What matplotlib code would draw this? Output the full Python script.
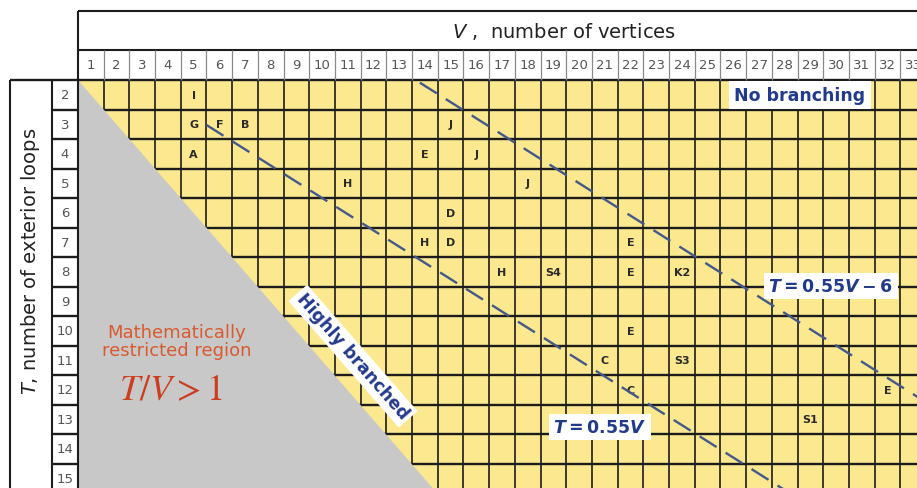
import matplotlib.pyplot as plt
from matplotlib.patches import Polygon, Rectangle

# grid axes: V across, T down
vertices = list(range(1, 34))
loops = list(range(2, 16))

# structures placed in the grid
labels = ["I", "G", "F", "B", "J", "A", "E", "J", "H", "J", "D", "H", "D", "E",
          "H", "S4", "E", "K2", "E", "C", "S3", "C", "E", "S1"]
label_v = [5, 5, 6, 7, 15, 5, 14, 16, 11, 18, 15, 14, 15, 22,
           17, 19, 22, 24, 22, 21, 24, 22, 32, 29]
label_t = [2, 3, 3, 3, 3, 4, 4, 4, 5, 5, 6, 7, 7, 7,
           8, 8, 8, 8, 10, 11, 11, 12, 12, 13]

# dashed boundaries T = slope*V + b
slope = 0.55
intercepts = [0, -6]
line_start_v = [5.5, 13.8]
line_texts = [r"$T = 0.55V$", r"$T = 0.55V - 6$"]

YELLOW = "#fbe88f"
GRAY = "#c8c8c8"
GRID = "#1c1c1c"
NAVY = "#223a8a"
DASH = "#44598a"
ORANGE = "#d85a30"

plt.rcParams["mathtext.fontset"] = "custom"
plt.rcParams["mathtext.rm"] = "DejaVu Sans:bold"
plt.rcParams["mathtext.it"] = "DejaVu Sans:italic:bold"

fig = plt.figure(figsize=(9.17, 4.89), dpi=100)
ax = fig.add_axes([0, 0, 1, 1])
ax.set_xlim(-2.535, 33.146)
ax.set_ylim(15.33, -1.246)
ax.axis("off")

v_lo, v_hi = vertices[0] - 0.5, vertices[-1] + 2
t_lo, t_hi = loops[0] - 0.5, loops[-1] + 1.5
lab_x = -0.512      # left edge of the row-number column
box_x = -2.146      # left edge of the axis title box
head_top = -0.839
head_mid = 0.473

# cells
ax.add_patch(Rectangle((v_lo, t_lo), v_hi - v_lo, t_hi - t_lo, fc=YELLOW, ec="none", zorder=0))
ax.hlines([t + 0.5 for t in loops], lab_x, v_hi, color=GRID, lw=1.7, zorder=1)
ax.vlines([v + 0.5 for v in vertices], t_lo, t_hi, color=GRID, lw=1.2, zorder=1)

# T/V > 1 region
ax.add_patch(Polygon([(v_lo, t_lo), (v_lo, t_hi), (v_lo + t_hi - t_lo, t_hi)],
                     closed=True, fc=GRAY, ec="none", zorder=2))

# header and side boxes
ax.hlines([head_top, head_mid], v_lo, v_hi, color=GRID, lw=1.5, zorder=3)
ax.hlines(t_lo, box_x, v_hi, color=GRID, lw=1.7, zorder=3)
ax.vlines(v_lo, head_top, t_hi, color=GRID, lw=1.5, zorder=3)
ax.vlines([box_x, lab_x], t_lo, t_hi, color=GRID, lw=1.5, zorder=3)
ax.vlines([v + 0.5 for v in vertices], head_mid, t_lo, color="#8a8a8a", lw=0.9, zorder=3)

for v in vertices:
    ax.text(v, (head_mid + t_lo) / 2, str(v), ha="center", va="center",
            fontsize=9.5, color="#555555", zorder=4)
for t in loops:
    ax.text((lab_x + v_lo) / 2, t, str(t), ha="center", va="center",
            fontsize=9.5, color="#555555", zorder=4)

ax.text(19.4, (head_top + head_mid) / 2, r"$V$ ,  number of vertices", ha="center", va="center",
        fontsize=14, color="#222222", math_fontfamily="dejavusans")
ax.text((box_x + lab_x) / 2, 7.6, r"$T$, number of exterior loops", ha="center", va="center",
        rotation=90, fontsize=14, color="#222222", math_fontfamily="dejavusans")

for s, v, t in zip(labels, label_v, label_t):
    ax.text(v, t, s, ha="center", va="center", fontsize=8, fontweight="bold",
            color="#2a2a2a", zorder=4)

for b, v0 in zip(intercepts, line_start_v):
    vs = [v0, v_hi + 3]
    ax.plot(vs, [slope * v + b for v in vs], color=DASH, lw=1.7,
            dashes=(8.5, 4.5), zorder=4)

box = dict(fc="white", ec="none", pad=0.25, boxstyle="square")
ax.text(20.81, 13.26, line_texts[0], ha="center", va="center", fontsize=12.5,
        color=NAVY, bbox=box, zorder=5)
ax.text(29.8, 8.48, line_texts[1], ha="center", va="center", fontsize=12.5,
        color=NAVY, bbox=box, zorder=5)
ax.text(28.59, 2.0, "No branching", ha="center", va="center", fontsize=12.5,
        fontweight="bold", color=NAVY, bbox=dict(fc="white", ec="none", pad=0.3, boxstyle="square"), zorder=5)
ax.text(11.2, 10.86, "Highly branched", ha="center", va="center", fontsize=12.5,
        fontweight="bold", color=NAVY, rotation=-48.9, rotation_mode="anchor",
        bbox=dict(fc="white", ec="none", pad=0.2, boxstyle="square"), zorder=5)

ax.text(4.35, 10.35, "Mathematically\nrestricted region", ha="center", va="center",
        fontsize=13, color=ORANGE, linespacing=1.05, zorder=5)
ax.text(4.12, 11.97, r"$T/V > 1$", ha="center", va="center", fontsize=26,
        color="#cc3d1e", math_fontfamily="stix", zorder=5)

fig.savefig("out.png", dpi=100)
